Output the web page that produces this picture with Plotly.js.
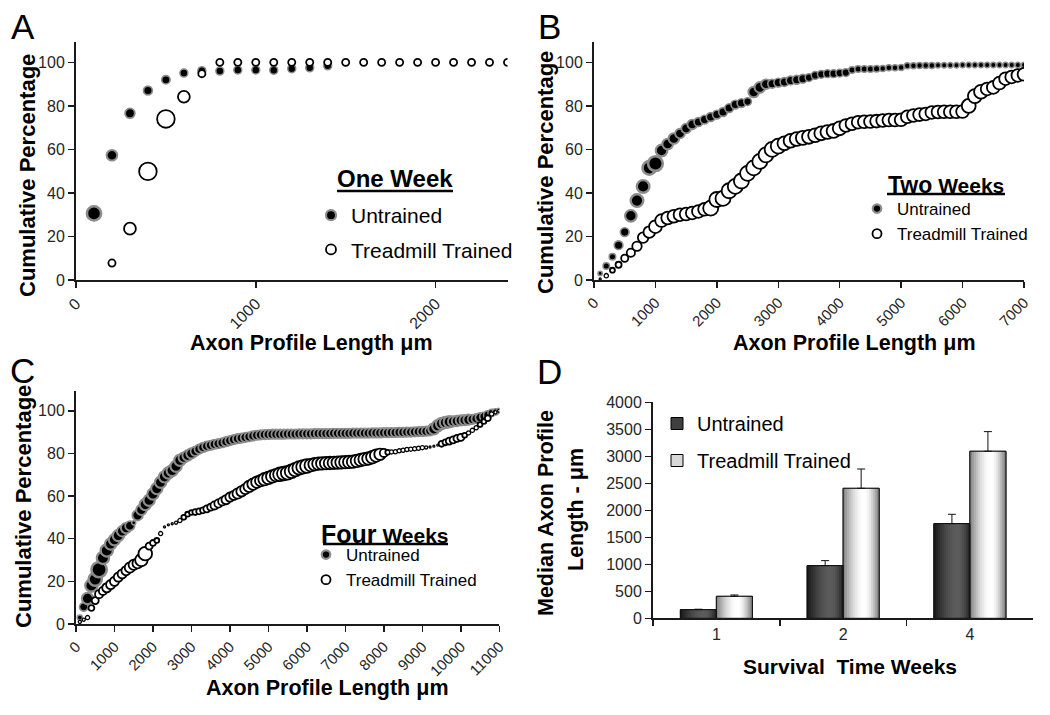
<!DOCTYPE html>
<html>
<head>
<meta charset="utf-8">
<script src="https://cdn.plot.ly/plotly-3.0.1.min.js"></script>
<style>html,body{margin:0;padding:0;background:#fff;}#chart{width:1050px;height:715px;}</style>
</head>
<body>
<div id="chart"></div>
<script>
// ---------- DATA ----------
// Panel A: One Week (cumulative %, bubble weight)
const xA_un = [100,200,300,400,500,600,700,800,900,1000,1100,1200,1300,1400];
const yA_un = [30.6,57.3,76.6,87.1,92.0,95.1,96.2,96.0,96.5,96.5,96.4,97.1,97.5,98.4];
const fA_un = [16,12,11,10,9.5,9,9,9,9,9,9,9,9,9];
const xA_tr = [200,300,400,500,600,700,800,900,1000,1100,1200,1300,1400,1500,1600,1700,1800,1900,2000,2100,2200,2300,2400];
const yA_tr = [7.8,23.6,49.9,74.0,84.2,94.8,100,100,100,100,100,100,100,100,100,100,100,100,100,100,100,100,100];
const fA_tr = [8.5,13,18.5,18.5,13,8.5,8.5,8.5,8.5,8.5,8.5,8.5,8.5,8.5,8.5,8.5,8.5,8.5,8.5,8.5,8.5,8.5,8.5];

// Panel B: Two Weeks
const xB = [100,200,300,400,500,600,700,800,900,1000,1100,1200,1300,1400,1500,1600,1700,1800,1900,2000,
  2100,2200,2300,2400,2500,2600,2700,2800,2900,3000,3100,3200,3300,3400,3500,3600,3700,3800,3900,4000,
  4100,4200,4300,4400,4500,4600,4700,4800,4900,5000,5100,5200,5300,5400,5500,5600,5700,5800,5900,6000,
  6100,6200,6300,6400,6500,6600,6700,6800,6900,7000];
const yB_un = [3,6.4,10.7,16,22,29.5,36.5,43,51.5,53.5,
  59.5,62.5,65,67.3,69.6,71.5,72.6,73.7,74.9,76,
  77.2,79,80.6,81.3,82,86.4,88.5,90,90.2,90.7,
  91,91.7,92,92.5,93,94,94.5,94.8,94.8,95.1,
  95.3,96.5,97,97,97,97.1,97.2,97.5,97.5,97.6,
  98.5,98.5,98.6,98.6,98.6,98.7,98.7,98.7,98.7,98.8,
  98.8,98.8,98.8,98.8,98.8,98.8,98.8,98.8,98.8,98.8];
const fB_un = [5,7,7,9,9,12,13,13,14,15,
  12,11,11,10,10,10,9,9,9,9,
  9,9,9,9,8,11,11,10,9,9,
  9,9,9,9,8,8,8,8,8,8,
  8,7,7,7,7,7,6.5,6.5,6.5,6.5,
  6.5,6.5,6.5,6.5,6.5,6,6,6,6,6,
  6,6,6,6,6,6,6,6,6,6];
const yB_tr = [0.5,2,4.5,7,10,12.5,15.5,19.5,22,24.5,
  27.3,28.5,29.3,30,30.3,30.8,31.5,32.5,33,37,
  37.5,41,43,45.5,49,51.5,54.5,57.5,60,61.5,
  62.8,64,64.8,65.3,65.8,66.5,67.4,68,68.5,69.7,
  71,71.8,72.5,72.7,72.8,73,73.3,73.5,73.5,73.6,
  75,75.6,76,76.3,77,77.2,77.3,77.3,77.3,77.4,
  80,84.5,86.5,87.8,88.5,90.5,92.5,93.3,94,94.5];
const fB_tr = [3,5,6,7,8,9,10,11,12,13,
  13,13,13,13,13,13,13,13,15,15,
  15,15,15,15,15,15,15,15,15,15,
  14,14,14,14,14,14,14,14,14,14,
  13,13,13,13,13,13,13,13,13,13,
  13,13,13,13,13,13,13,13,13,13,
  14,14,14,13,13,13,13,13,13,13];

// Panel C: Four Weeks
const xC = [100,200,300,400,500,600,700,800,900,1000,1100,1200,1300,1400,1500,1600,1700,1800,1900,2000,
  2100,2200,2300,2400,2500,2600,2700,2800,2900,3000,3100,3200,3300,3400,3500,3600,3700,3800,3900,4000,
  4100,4200,4300,4400,4500,4600,4700,4800,4900,5000,5100,5200,5300,5400,5500,5600,5700,5800,5900,6000,
  6100,6200,6300,6400,6500,6600,6700,6800,6900,7000,7100,7200,7300,7400,7500,7600,7700,7800,7900,8000,
  8100,8200,8300,8400,8500,8600,8700,8800,8900,9000,9100,9200,9300,9400,9500,9600,9700,9800,9900,10000,
  10100,10200,10300,10400,10500,10600,10700,10800,10900,11000];
const yC_un = [3,8,12,18,21,25.5,31,34.5,37.5,39.5,
  41.5,43.5,45,46,47.5,51,53.5,56,58,61,
  63.5,66.5,69,70.8,72,74,76.8,78,79,80,
  81,82,82.8,83.4,83.8,84.3,84.6,85,85.5,86,
  86.5,86.9,87.2,87.5,87.8,88.2,88.5,88.7,88.8,88.9,
  89,89,89,89,89.1,89.1,89.1,89.2,89.2,89.2,
  89.2,89.3,89.3,89.3,89.3,89.3,89.4,89.4,89.4,89.4,
  89.4,89.5,89.5,89.5,89.5,89.5,89.6,89.6,89.6,89.7,
  89.7,89.8,89.8,89.9,89.9,90,90,90.1,90.2,90.3,
  90.4,90.6,91.5,93,94,94.5,94.8,95,95.2,95.5,
  95.6,95.8,96,96.3,96.8,97.3,98,99,99.5,100];
const fC_un = [6,9,12,13,14,16,13,13,12,12,
  12,11,11,10,5,11,11,12,12,12,
  12,12,12,12,12,12,12,11,11,11,
  10,10,10,10,10,10,10,10,10,10,
  10,10,10,10,10,10,10,10,10,10,
  10,10,10,10,10,10,10,10,10,10,
  10,10,10,10,10,10,10,10,10,10,
  10,10,10,10,10,10,10,10,10,10,
  10,10,10,10,10,10,10,10,10,10,
  10,10,12,12,12,12,12,11,11,11,
  11,11,10,10,10,9,9,8,7,6];
const yC_tr = [1,2,3,7.5,11,14,15.5,17,18.5,20,
  22,23.5,25,26.5,27.8,28.5,30,33,36.5,38,
  39.2,42.4,45.5,46.5,47,47.5,48.5,50,51.5,52.3,
  52.5,52.8,53.3,54,54.8,55.6,56.5,57.5,58.3,59.5,
  60.3,61.2,62.2,63.3,64.5,65.6,66.5,67.2,67.9,68.5,
  69.2,69.8,70.2,70.6,70.9,71.6,72.4,73.2,73.7,74.1,
  74.5,74.9,75.2,75.3,75.4,75.5,75.6,75.7,75.8,75.9,
  76,76.1,76.5,76.9,77.3,77.6,78.2,79,79.6,80.2,
  80.5,80.7,80.8,81.2,81.5,81.8,82,82.2,82.4,82.7,
  82.8,83,83.4,83.9,84.5,85.2,85.8,86.3,87,87.5,
  88.5,89.6,90.8,92,93.5,95,96.5,98.5,99.3,100];
const fC_tr = [4,4,5,7,8,9,9,10,10,10,
  10,10,10,11,11,11,13,14,8,7,
  6,5,3,3,3,4,5,6,6,6,
  7,7,7,8,8,9,9,9,10,10,
  10,11,11,11,12,12,12,12,13,13,
  13,13,14,14,14,14,14,14,14,14,
  13,13,13,13,13,13,13,13,13,13,
  13,13,13,13,13,13,13,13,12,9,
  6,5,5,5,5,5,5,5,5,5,
  4,3,3,3,7,7,8,8,8,8,
  6,5,5,5,6,6,7,5,4,4];

// Panel D: median axon profile length
const weeks = ['1','2','4'];
const medUntrained = [160,975,1753];
const semUntrained = [8,93,173];
const medTrained = [407,2407,3093];
const semTrained = [25,358,364];

// ---------- LAYOUT HELPERS ----------
const W = 1050, H = 715;
const px = v => v / W;
const py = v => 1 - v / H;
const FONT = 'Liberation Sans, Arial, sans-serif';
const AX = '#1a1a1a';
const TXT = '#262626';

function axisBase(extra) {
  return Object.assign({
    showline: true, linecolor: AX, linewidth: 2,
    ticks: 'outside', ticklen: 6, tickwidth: 1.5, tickcolor: AX,
    showgrid: false, zeroline: false, fixedrange: true, tickformat: 'd',
    tickfont: {family: FONT, size: 16, color: TXT}
  }, extra);
}

const UN_HALO = '#8c8c8c';
function unMarker(f, k) {
  const d = f.map(v => v * k);
  const lw = d.map(v => Math.max(1.5, Math.min(2.6, v * 0.16)));
  return {color: '#000', opacity: 1, size: d.map((v, i) => Math.max(1, v - lw[i])),
          line: {color: UN_HALO, width: lw}};
}
function trMarker(f, k) {
  const d = f.map(v => v * k);
  const lw = d.map(v => v < 6 ? 1.3 : 1.8);
  return {color: '#fff', opacity: 1, size: d.map((v, i) => Math.max(1, v - lw[i])),
          line: {color: '#000', width: lw}};
}

const traces = [];
function addScatter(x, y, f, un, k, xa, ya) {
  traces.push({type: 'scatter', mode: 'markers', x: x, y: y, xaxis: xa, yaxis: ya,
    marker: un ? unMarker(f, k) : trMarker(f, k), showlegend: false, hoverinfo: 'skip'});
}
function addLegendItems(legend, xa, ya, unSize, trSize) {
  traces.push({type: 'scatter', mode: 'markers', x: [null], y: [null], xaxis: xa, yaxis: ya,
    name: 'Untrained', legend: legend, legendgroup: legend + 'u', showlegend: true,
    marker: {color: '#000', opacity: 1, size: unSize, line: {color: UN_HALO, width: 2.2}}});
  traces.push({type: 'scatter', mode: 'markers', x: [null], y: [null], xaxis: xa, yaxis: ya,
    name: 'Treadmill Trained', legend: legend, legendgroup: legend + 't', showlegend: true,
    marker: {color: '#fff', opacity: 1, size: trSize, line: {color: '#000', width: 1.8}}});
}

addScatter(xA_un, yA_un, fA_un, true, 1.05, 'x', 'y');
addScatter(xA_tr, yA_tr, fA_tr, false, 1.05, 'x', 'y');
addLegendItems('legend', 'x', 'y', 10, 10);

addScatter(xB, yB_un, fB_un, true, 1.15, 'x2', 'y2');
addScatter(xB, yB_tr, fB_tr, false, 1.12, 'x2', 'y2');
addLegendItems('legend2', 'x2', 'y2', 8.5, 9);

addScatter(xC, yC_un, fC_un, true, 1.12, 'x3', 'y3');
addScatter(xC, yC_tr, fC_tr, false, 1.1, 'x3', 'y3');
addLegendItems('legend3', 'x3', 'y3', 8.5, 9);

// ---------- Panel D bars with shaded (cylindrical) fill ----------
const BW = 0.284, NSTRIP = 18;
function shade(t, lo, hi, end, peak) {
  let v;
  if (t <= peak) v = lo + (hi - lo) * Math.sin((t / peak) * Math.PI / 2);
  else v = end + (hi - end) * Math.cos(((t - peak) / (1 - peak)) * Math.PI / 2);
  v = Math.round(Math.max(0, Math.min(255, v)));
  return 'rgb(' + v + ',' + v + ',' + v + ')';
}
const barSeries = [
  {name: 'Untrained', y: medUntrained, err: semUntrained, off: -BW, mid: '#3f3f3f', lo: 24, hi: 92, end: 34, peak: 0.66},
  {name: 'Treadmill Trained', y: medTrained, err: semTrained, off: 0, mid: '#d8d8d8', lo: 128, hi: 255, end: 118, peak: 0.58}
];
barSeries.forEach(s => {
  traces.push({type: 'bar', x: weeks, y: s.y, xaxis: 'x4', yaxis: 'y4', name: s.name,
    legend: 'legend4', legendgroup: 'd' + s.name, showlegend: true, offset: s.off, width: BW,
    marker: {color: s.mid, line: {color: '#000', width: 1}}, hoverinfo: 'skip'});
});
barSeries.forEach(s => {
  const sw = BW / NSTRIP;
  for (let i = 0; i < NSTRIP; i++) {
    const t = (i + 0.5) / NSTRIP;
    traces.push({type: 'bar', x: weeks, y: s.y, xaxis: 'x4', yaxis: 'y4', showlegend: false,
      offset: s.off + i * sw, width: i < NSTRIP - 1 ? sw * 1.3 : sw,
      marker: {color: shade(t, s.lo, s.hi, s.end, s.peak), line: {width: 0}}, hoverinfo: 'skip'});
  }
});
barSeries.forEach(s => {
  traces.push({type: 'bar', x: weeks, y: s.y, xaxis: 'x4', yaxis: 'y4', showlegend: false,
    offset: s.off, width: BW,
    marker: {color: 'rgba(0,0,0,0)', line: {color: '#111', width: 1}},
    error_y: {type: 'data', symmetric: false, array: s.err, arrayminus: s.err.map(() => 0),
              color: '#111', thickness: 1, width: 4},
    hoverinfo: 'skip'});
});

// ---------- ANNOTATIONS ----------
const ann = [];
function txt(text, x, y, size, opts) {
  ann.push(Object.assign({text: text, x: px(x), y: py(y), xref: 'paper', yref: 'paper',
    showarrow: false, xanchor: 'center', yanchor: 'middle',
    font: {family: FONT, size: size, color: '#000'}}, opts || {}));
}
// panel letters
txt('A', 23, 27, 35); txt('B', 549, 27, 35); txt('C', 22, 370, 35); txt('D', 549, 371, 35);
// axis titles
txt('<b>Cumulative Percentage</b>', 27, 176, 22, {textangle: -90});
txt('<b>Cumulative Percentage</b>', 546, 173, 22, {textangle: -90});
txt('<b>Cumulative Percentage</b>', 23, 507, 22, {textangle: -90});
txt('<b>Median Axon Profile</b>', 546, 513, 21.5, {textangle: -90});
txt('<b>Length - μm</b>', 576, 510, 21.5, {textangle: -90});
txt('<b>Axon Profile Length μm</b>', 311, 343, 21.5);
txt('<b>Axon Profile Length μm</b>', 854, 343, 21.5);
txt('<b>Axon Profile Length μm</b>', 327, 688, 21.5);
txt('<b>Survival  Time Weeks</b>', 850, 666, 21);
// legend headings (underlined with shapes below)
txt('<b>One Week</b>', 395, 179, 24);
txt('<b><span style="font-size:23px">Two</span> Weeks</b>', 946, 185, 21);
txt('<b><span style="font-size:25px">Four</span> Weeks</b>', 385, 534, 21);

const shapes = [
  {type: 'line', xref: 'paper', yref: 'paper', x0: px(337), x1: px(453), y0: py(191), y1: py(191), line: {color: '#000', width: 2.5}},
  {type: 'line', xref: 'paper', yref: 'paper', x0: px(887), x1: px(1005), y0: py(194), y1: py(194), line: {color: '#000', width: 2.5}},
  {type: 'line', xref: 'paper', yref: 'paper', x0: px(323), x1: px(448), y0: py(544), y1: py(544), line: {color: '#000', width: 2.5}}
];

// ---------- LAYOUT ----------
const legBase = {bgcolor: 'rgba(0,0,0,0)', borderwidth: 0, xanchor: 'left', yanchor: 'top',
  traceorder: 'grouped', itemsizing: 'trace', itemclick: false, itemdoubleclick: false};

const layout = {
  width: W, height: H, margin: {l: 0, r: 0, t: 0, b: 0},
  paper_bgcolor: '#fff', plot_bgcolor: '#fff',
  font: {family: FONT, color: '#000'},
  hovermode: false, barmode: 'overlay',
  xaxis: axisBase({domain: [px(76), px(507.5)], range: [0, 2400], tick0: 0, dtick: 1000, tickangle: -45,
    anchor: 'y', tickfont: {family: FONT, size: 16, color: TXT}}),
  yaxis: axisBase({domain: [py(280), py(41.7)], range: [0, 109.5], tick0: 0, dtick: 20, anchor: 'x'}),
  xaxis2: axisBase({domain: [px(594), px(1024)], range: [0, 7000], tick0: 0, dtick: 1000, tickangle: -45,
    anchor: 'y2', tickfont: {family: FONT, size: 15, color: TXT}}),
  yaxis2: axisBase({domain: [py(280), py(41.7)], range: [0, 109.5], tick0: 0, dtick: 20, anchor: 'x2'}),
  xaxis3: axisBase({domain: [px(76), px(499.3)], range: [0, 11000], tick0: 0, dtick: 1000, tickangle: -45,
    anchor: 'y3', tickfont: {family: FONT, size: 15, color: TXT}}),
  yaxis3: axisBase({domain: [py(624), py(390.7)], range: [0, 109.4], tick0: 0, dtick: 20, anchor: 'x3'}),
  xaxis4: axisBase({domain: [px(653), px(1033.3)], type: 'category', range: [-0.5, 2.5],
    tickson: 'boundaries', anchor: 'y4', ticklen: 6, tickformat: ''}),
  yaxis4: axisBase({domain: [py(618.3), py(402.3)], range: [0, 4000], tick0: 0, dtick: 500, anchor: 'x4'}),
  legend: Object.assign({}, legBase, {x: px(311), y: py(195), font: {family: FONT, size: 21, color: '#000'}, tracegroupgap: 4}),
  legend2: Object.assign({}, legBase, {x: px(857), y: py(191), font: {family: FONT, size: 17, color: '#000'}, tracegroupgap: 0}),
  legend3: Object.assign({}, legBase, {x: px(306), y: py(537), font: {family: FONT, size: 17, color: '#000'}, tracegroupgap: 0}),
  legend4: Object.assign({}, legBase, {x: px(657), y: py(404), font: {family: FONT, size: 20, color: '#000'}, tracegroupgap: 8}),
  annotations: ann,
  shapes: shapes
};

Plotly.newPlot('chart', traces, layout, {staticPlot: true, displayModeBar: false});
</script>
</body>
</html>
